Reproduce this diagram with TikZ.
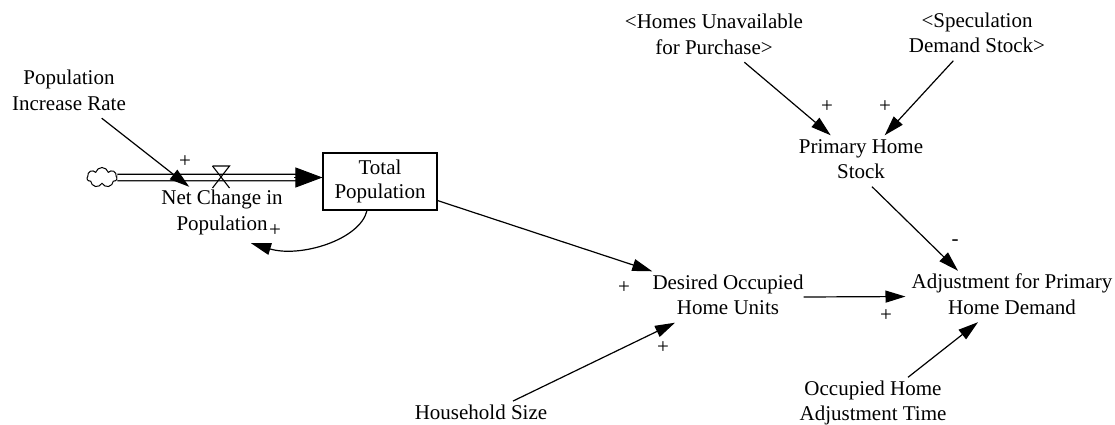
\documentclass[tikz,border=0pt]{standalone}
\usepackage{fontspec}
\setmainfont{LiberationSerif}[Extension=.ttf, UprightFont=*-Regular,
  BoldFont=*-Bold, ItalicFont=*-Italic, BoldItalicFont=*-BoldItalic]
\usetikzlibrary{arrows.meta,shapes.symbols}

\begin{document}
\begin{tikzpicture}[x=1pt,y=-1pt,
  var/.style={align=center, inner sep=0pt, font=\rmfamily\fontsize{21}{25.5}\selectfont},
  stockbox/.style={draw, line width=1.1pt, minimum width=114pt, minimum height=57pt,
    inner sep=0pt, align=center, font=\rmfamily\fontsize{21}{24}\selectfont},
  link/.style={line width=1.2pt, -{Triangle[length=20pt,width=12pt]}},
  pol/.style={inner sep=0pt, font=\rmfamily\fontsize{21}{25}\selectfont},
  pipe/.style={draw, double, double distance=5pt, line width=1.3pt},
]
\useasboundingbox (0,0) rectangle (1115,425);

% variables
\node[var] (pir) at (69,92.5) {\strut Population\\Increase Rate\strut};
\node[var] (netchange) at (222,212.5) {\strut Net Change in\\Population\strut};
\node[stockbox] (box) at (380,181.5) {Total\\Population};
\node[var] (hua) at (714,36.5) {\strut <Homes Unavailable\\for Purchase>\strut};
\node[var] (sds) at (977,35) {\strut <Speculation\\Demand Stock>\strut};
\node[var] (pstock) at (861,161) {\strut Primary Home\\Stock\strut};
\node[var] (doh) at (728,297) {\strut Desired Occupied\\Home Units\strut};
\node[var] (adj) at (1012,296.5) {\strut Adjustment for Primary\\Home Demand\strut};
\node[var] (hs) at (481,414) {\strut Household Size};
\node[var] (ohat) at (873,403) {\strut Occupied Home\\Adjustment Time\strut};

% source cloud, flow pipe and valve
\node[cloud, draw, cloud puffs=7, cloud ignores aspect, minimum width=30pt,
  minimum height=20pt, inner sep=0pt, line width=1pt] (cloud) at (102,177.5) {};
\draw[pipe] (cloud.east) -- ([xshift=-20pt,yshift=4pt]box.west);
\draw[line width=1pt, -{Triangle[length=27pt,width=20pt]}]
  ([xshift=-28pt,yshift=4pt]box.west) -- ([yshift=4pt]box.west);
\coordinate (valve) at (221,177.5);
\draw[line width=1.1pt] ([shift={(-8.5,-11.5)}]valve) -- ([shift={(8.5,-11.5)}]valve)
  -- ([shift={(-8.5,10.5)}]valve);
\draw[line width=1.1pt] ([shift={(-8.5,-11.5)}]valve) -- ([shift={(8.5,10.5)}]valve);

% causal links
\draw[link] (pir) -- (netchange);
\draw[link] ([xshift=-13pt]box.south) .. controls (360,240) and (300,258)
  .. ([xshift=29pt,yshift=-5pt]netchange.south);
\draw[link] ([yshift=10pt]box.south east) -- (doh.north west);
\draw[link] (hua) -- (pstock);
\draw[link] (sds) -- (pstock);
\draw[link] ([xshift=11pt]pstock.south) -- ([xshift=-54pt]adj.north);
\draw[link, shorten >=6pt] (doh.east) -- (adj.west);
\draw[link] ([xshift=32pt]hs.north) -- ([xshift=-53pt]doh.south);
\draw[link] ([xshift=35pt]ohat.north) -- ([xshift=-34pt]adj.south);

% polarities
\node[pol] (p1) at (185,162) {+};
\node[pol] (p2) at (275,231) {+};
\node[pol] (p3) at (827,107) {+};
\node[pol] (p4) at (885,107) {+};
\node[pol] (p5) at (955,243) {-};
\node[pol] (p6) at (624,288) {+};
\node[pol] (p7) at (886,316) {+};
\node[pol] (p8) at (663,348) {+};
\end{tikzpicture}
\end{document}
